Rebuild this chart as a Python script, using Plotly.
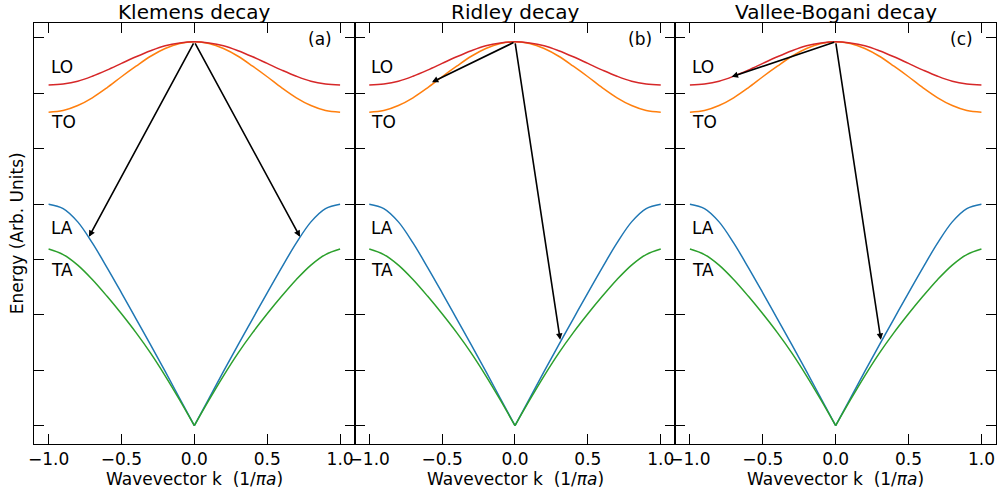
import plotly.graph_objects as go
from plotly.subplots import make_subplots

# ---- data ----
k = [-1.0, -0.9, -0.8, -0.7, -0.6, -0.5, -0.4, -0.3, -0.2, -0.1, 0.0,
     0.1, 0.2, 0.3, 0.4, 0.5, 0.6, 0.7, 0.8, 0.9, 1.0]
LO = [6.15, 6.17, 6.22, 6.31, 6.42, 6.54, 6.66, 6.77, 6.86, 6.91, 6.93,
      6.91, 6.86, 6.77, 6.66, 6.54, 6.42, 6.31, 6.22, 6.17, 6.15]
TO = [5.66, 5.69, 5.78, 5.92, 6.10, 6.30, 6.49, 6.67, 6.81, 6.90, 6.93,
      6.90, 6.81, 6.67, 6.49, 6.30, 6.10, 5.92, 5.78, 5.69, 5.66]
LA = [4.00, 3.92, 3.68, 3.30, 2.86, 2.40, 1.93, 1.46, 0.98, 0.49, 0.00,
      0.49, 0.98, 1.46, 1.93, 2.40, 2.86, 3.30, 3.68, 3.92, 4.00]
TA = [3.19, 3.09, 2.90, 2.64, 2.34, 2.02, 1.68, 1.31, 0.90, 0.46, 0.00,
      0.46, 0.90, 1.31, 1.68, 2.02, 2.34, 2.64, 2.90, 3.09, 3.19]

titles = ["Klemens decay", "Ridley decay", "Vallee-Bogani decay"]
panel_tags = ["(a)", "(b)", "(c)"]
branch_labels = ["LO", "TO", "LA", "TA"]
branch_label_y = [6.47, 5.48, 3.57, 2.82]

# arrows: (tail_k, tail_E, tip_k, tip_E) per panel
arrows = [
    [(0.0, 6.93, -0.723, 3.41), (0.0, 6.93, 0.725, 3.41)],
    [(0.0, 6.93, -0.57, 6.20), (0.0, 6.93, 0.31, 1.55)],
    [(0.0, 6.93, -0.714, 6.30), (0.0, 6.93, 0.31, 1.55)],
]

x_tickvals = [-1.0, -0.5, 0.0, 0.5, 1.0]
x_ticktext = ["\u22121.0", "\u22120.5", "0.0", "0.5", "1.0"]
y_tickvals = [0, 1, 2, 3, 4, 5, 6, 7]

C_BLUE, C_ORANGE, C_GREEN, C_RED = "#1f77b4", "#ff7f0e", "#2ca02c", "#d62728"
FONT = "DejaVu Sans"

fig = make_subplots(rows=1, cols=3, shared_yaxes=True, horizontal_spacing=0)

mid = k.index(0.0)
for c in range(1, 4):
    def add(xs, ys, color):
        fig.add_trace(go.Scatter(x=xs, y=ys, mode="lines", line=dict(color=color, width=1.5, shape="spline"),
                                 showlegend=False, hoverinfo="skip"), row=1, col=c)
    # acoustic branches drawn as two halves (cusp at k=0)
    add(k[:mid + 1], LA[:mid + 1], C_BLUE)
    add(k[mid:], LA[mid:], C_BLUE)
    add(k, TO, C_ORANGE)
    add(k[:mid + 1], TA[:mid + 1], C_GREEN)
    add(k[mid:], TA[mid:], C_GREEN)
    add(k, LO, C_RED)

annotations = []
for i in range(3):
    xr = "x" if i == 0 else f"x{i+1}"
    yr = "y" if i == 0 else f"y{i+1}"
    annotations.append(dict(text=titles[i], xref=f"{xr} domain", yref="paper", x=0.5, y=1.0,
                            xanchor="center", yanchor="bottom", yshift=-2, borderpad=0, showarrow=False,
                            font=dict(family=FONT, size=20, color="black")))
    annotations.append(dict(text=panel_tags[i], xref=xr, yref=yr, x=0.86, y=6.99,
                            xanchor="center", yanchor="middle", showarrow=False,
                            font=dict(family=FONT, size=17, color="black")))
    for lab, ly in zip(branch_labels, branch_label_y):
        annotations.append(dict(text=lab, xref=xr, yref=yr, x=-1.0, y=ly,
                                xanchor="left", yanchor="middle", showarrow=False,
                                font=dict(family=FONT, size=17, color="black")))
    for (tk, te, hk, he) in arrows[i]:
        annotations.append(dict(text="", xref=xr, yref=yr, x=hk, y=he, axref=xr, ayref=yr, ax=tk, ay=te,
                                showarrow=True, arrowhead=2, arrowsize=0.8, arrowwidth=1.6,
                                arrowcolor="black", standoff=0, startstandoff=0))
    annotations.append(dict(text="Wavevector k  (1/<i>\u03c0a</i>)", xref=f"{xr} domain", yref="paper",
                            x=0.5, y=0, yshift=-23, xanchor="center", yanchor="top", showarrow=False,
                            font=dict(family=FONT, size=17, color="black")))

annotations.append(dict(text="Energy (Arb. Units)", xref="paper", yref="paper", x=-0.018, y=0.5,
                        xanchor="center", yanchor="middle", textangle=-90, showarrow=False,
                        font=dict(family=FONT, size=17, color="black")))

axis_common = dict(showline=True, linecolor="black", linewidth=1, mirror="allticks",
                   ticks="inside", ticklen=10, tickcolor="black", tickwidth=1,
                   showgrid=False, zeroline=False)
for i in range(1, 4):
    fig.update_xaxes(range=[-1.1, 1.1], tickvals=x_tickvals, ticktext=x_ticktext,
                     tickfont=dict(family=FONT, size=17, color="black"), **axis_common, row=1, col=i)
    fig.update_yaxes(range=[-0.33, 7.27], tickvals=y_tickvals, showticklabels=False,
                     **axis_common, row=1, col=i)

fig.update_layout(width=1005, height=493, margin=dict(l=34, r=9, t=23, b=49),
                  plot_bgcolor="white", paper_bgcolor="white", annotations=annotations,
                  font=dict(family=FONT, color="black"))

fig.write_html("out.html", config={"displayModeBar": False},
               post_script="document.body.style.margin='0px';document.body.style.overflow='hidden';")
